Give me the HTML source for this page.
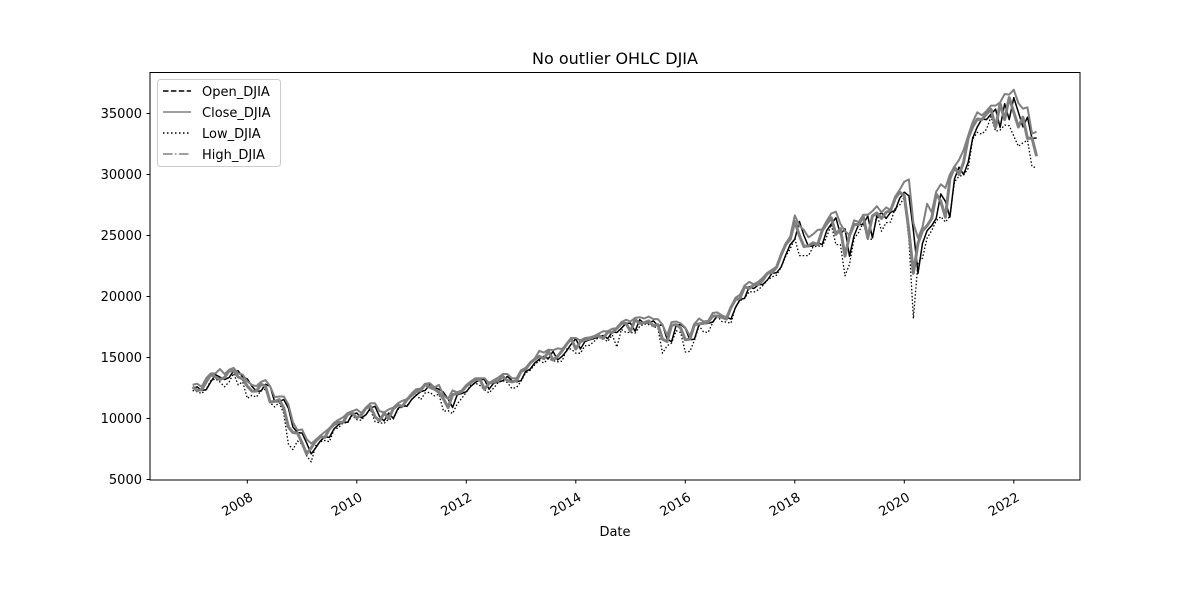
<!DOCTYPE html>
<html><head><meta charset="utf-8"><style>
body{margin:0;background:#fff;}
svg text{font-family:"DejaVu Sans","Liberation Sans",sans-serif;fill:#000;}
</style></head><body>
<svg id="chart" width="1200" height="600" viewBox="0 0 1200 600">
<rect width="1200" height="600" fill="#fff"/>
<text x="615" y="64" font-size="16" text-anchor="middle">No outlier OHLC DJIA</text>
<g id="series"></g>
<rect x="150" y="72.5" width="930" height="407.5" fill="none" stroke="#000" stroke-width="1"/>
<g id="yaxis"></g>
<g id="xaxis"></g>
<text x="615" y="536" font-size="13" text-anchor="middle">Date</text>
<g>
<rect x="157.5" y="79.5" width="123" height="87" rx="3" fill="#fff" fill-opacity="0.8" stroke="#ccc"/>
<g><line x1="163" y1="91" x2="191" y2="91" stroke="#000" stroke-width="1.5" stroke-dasharray="5.5,2.4"/><text x="202" y="96" font-size="13">Open_DJIA</text></g>
<g><line x1="163" y1="112" x2="191" y2="112" stroke="#808080" stroke-width="1.5"/><text x="202" y="117" font-size="13">Close_DJIA</text></g>
<g><line x1="163" y1="133" x2="191" y2="133" stroke="#000" stroke-width="1.5" stroke-dasharray="1.5,2.5"/><text x="202" y="138" font-size="13">Low_DJIA</text></g>
<g><line x1="163" y1="154" x2="191" y2="154" stroke="#808080" stroke-width="1.5" stroke-dasharray="9.6,2.4,1.5,2.4"/><text x="202" y="159" font-size="13">High_DJIA</text></g>
</g>
</svg>
<script>
const startYear = 2007;
const closeVals = [
12600,12300,12350,13000,13600,13400,13200,13350,13900,13900,13400,13250,
12650,12250,12250,12800,12650,11350,11400,11550,10850,9300,8850,8800,
8000,7100,7600,8150,8500,8450,9150,9500,9700,9700,10350,10450,
10050,10300,10850,11000,10150,9800,10450,10000,10800,11100,11000,11550,
11900,12200,12300,12800,12550,12400,12150,11600,10900,11950,12050,12200,
12650,12950,13200,13200,12400,12900,13000,13100,13450,13100,13000,13100,
13850,14050,14550,14850,15100,14900,15500,14800,15100,15550,16100,16550,
15700,16300,16450,16550,16700,16800,16550,17100,17050,17400,17800,17800,
17150,18100,17800,17850,18000,17600,17700,16500,16300,17650,17700,17400,
16450,16500,17700,17750,17800,17900,18400,18400,18300,18150,19100,19750,
19850,20800,20650,20950,21000,21350,21900,21950,22400,23400,24250,24700,
26150,25000,24100,24150,24400,24250,25400,25950,26450,25100,25550,23300,
25000,25900,25900,26600,24800,26600,26850,26400,26900,27050,28050,28550,
28250,25400,21900,24350,25400,25800,26400,28400,27800,26500,29650,30600,
30000,31000,33000,33900,34550,34500,34950,35350,33850,35800,34500,36300,
35100,33900,34700,32950,33000,31500];
const openVals = [
12450,12600,12300,12350,13000,13600,13400,13200,13350,13900,13900,13400,
13250,12650,12250,12250,12800,12650,11350,11400,11550,10850,9300,8850,
8800,8000,7100,7600,8150,8500,8450,9150,9500,9700,9700,10350,
10450,10050,10300,10850,11000,10150,9800,10450,10000,10800,11100,11000,
11550,11900,12200,12300,12800,12550,12400,12150,11600,10900,11950,12050,
12200,12650,12950,13200,13200,12400,12900,13000,13100,13450,13100,13000,
13100,13850,14050,14550,14850,15100,14900,15500,14800,15100,15550,16100,
16550,15700,16300,16450,16550,16700,16800,16550,17100,17050,17400,17800,
17800,17150,18100,17800,17850,18000,17600,17700,16500,16300,17650,17700,
17400,16450,16500,17700,17750,17800,17900,18400,18400,18300,18150,19100,
19750,19850,20800,20650,20950,21000,21350,21900,21950,22400,23400,24250,
24700,26150,25000,24100,24150,24400,24250,25400,25950,26450,25100,25550,
23300,25000,25900,25900,26600,24800,26600,26850,26400,26900,27050,28050,
28550,28250,25400,21900,24350,25400,25800,26400,28400,27800,26500,29650,
30600,30000,31000,33000,33900,34550,34500,34950,35350,33850,35800,34500,
36300,35100,33900,34700,32950,33000];
const lowVals = [
12300,12200,12050,12400,13100,13250,13000,12600,13000,13700,12750,13000,
11650,11900,11750,12300,12400,11300,10950,11300,10400,7900,7450,8150,
7900,6950,6450,7750,8100,8200,8100,9100,9250,9650,9650,10250,
9900,9850,10350,10750,9750,9650,9600,9950,9950,10750,10950,11050,
11550,11950,11550,12100,12150,11850,12000,10600,10650,10400,11200,11650,
12150,12750,12900,12700,12350,12100,12500,12950,13100,12950,12450,12550,
13050,13750,13950,14400,14750,14550,14900,14750,14650,14700,15700,15700,
15350,15350,15950,16000,16300,16650,16550,16300,16850,15850,17300,17050,
17050,17000,17550,17750,17700,17550,17400,15350,15950,16200,17200,17050,
15450,15500,16400,17600,17100,17050,17850,18400,17950,17900,17800,19150,
19650,19850,20400,20350,20550,20900,21350,21600,21750,22400,23300,23900,
24750,23350,23350,23350,24050,24150,24100,24900,25900,24250,24250,21700,
22650,24750,25250,26050,24700,24700,26800,25350,26050,26100,27250,27500,
28150,24650,18200,22800,23150,24800,25400,26200,26550,26100,26600,29400,
29850,29950,30500,32900,33450,33300,33700,34750,33550,33650,34050,34000,
33150,32300,32600,32800,30650,30550];
const highVals = [
12750,12850,12600,13300,13700,13700,14050,13650,14000,14150,13700,13600,
13050,12750,12650,13000,13150,12650,11750,11800,11800,11150,9700,9050,
9100,8300,7950,8250,8600,8900,9200,9650,9900,10100,10450,10600,
10750,10450,10900,11250,11250,10600,10500,10750,10900,11250,11450,11600,
12050,12400,12450,12850,12900,12550,12750,11900,11600,12300,12150,12300,
12750,13050,13300,13300,13300,12900,13150,13350,13650,13650,13300,13300,
13950,14150,14600,14900,15550,15400,15650,15600,15750,15700,16100,16600,
16600,16400,16600,16650,16750,16950,17150,17150,17350,17400,17900,18100,
17950,18250,18300,18200,18350,18150,18150,17700,16800,17900,17950,17800,
17450,16750,17750,18200,17950,18000,18650,18700,18450,18300,19150,19900,
20150,20900,21200,21000,21200,21550,21950,22200,22450,23500,24350,24900,
26650,25800,25450,24850,25100,25450,25500,26200,26800,26950,25950,25350,
25050,26250,26100,26700,26700,27000,27400,26900,27300,27100,28200,28750,
29400,29600,26000,24800,25700,27600,26900,28600,29200,28900,30000,30650,
31200,32000,33200,34300,35100,34850,35200,35650,35650,35900,36600,36550,
36950,35850,35400,35500,33350,33500];
const yTicks = [5000,10000,15000,20000,25000,30000,35000];
const xTicks = [2008,2010,2012,2014,2016,2018,2020,2022];

function xScale(t){ return 247.3 + (t - 2008) * 54.75; }
function yScale(v){ return 479.5 - (v - 5000) * (366 / 30000); }
function tOf(i){ return startYear + i / 12; }
const NS = 'http://www.w3.org/2000/svg';

function drawLine(vals, color, width, dash, name){
  let d = '';
  for (let i = 0; i < vals.length; i++) {
    const x = xScale(tOf(i)), y = yScale(vals[i]);
    d += (i ? 'L' : 'M') + x.toFixed(1) + ',' + y.toFixed(1);
  }
  const p = document.createElementNS(NS, 'path');
  p.setAttribute('d', d);
  p.setAttribute('fill', 'none');
  p.setAttribute('stroke', color);
  p.setAttribute('stroke-width', width);
  p.setAttribute('stroke-linejoin', 'round');
  if (dash) p.setAttribute('stroke-dasharray', dash);
  
  
  document.getElementById('series').appendChild(p);
}
drawLine(lowVals, '#000', '1.3', '1.5,2', 'low-line');
drawLine(openVals, '#000', '1.5', null, 'open-line');
drawLine(closeVals, '#808080', '3', null, 'close-line');
drawLine(highVals, '#808080', '2', null, 'high-line');

const ya = document.getElementById('yaxis');
yTicks.forEach(v => {
  const y = yScale(v);
  const l = document.createElementNS(NS, 'line');
  l.setAttribute('x1', 146.5); l.setAttribute('x2', 150);
  l.setAttribute('y1', y); l.setAttribute('y2', y);
  l.setAttribute('stroke', '#000');
  
  
  ya.appendChild(l);
  const t = document.createElementNS(NS, 'text');
  t.setAttribute('x', 142); t.setAttribute('y', y + 4.5);
  t.setAttribute('font-size', '13'); t.setAttribute('text-anchor', 'end');
  t.textContent = v;
  
  
  ya.appendChild(t);
});
const xa = document.getElementById('xaxis');
xTicks.forEach(yr => {
  const x = xScale(yr);
  const l = document.createElementNS(NS, 'line');
  l.setAttribute('x1', x); l.setAttribute('x2', x);
  l.setAttribute('y1', 480); l.setAttribute('y2', 483.5);
  l.setAttribute('stroke', '#000');
  
  
  xa.appendChild(l);
  const t = document.createElementNS(NS, 'text');
  t.setAttribute('font-size', '13'); t.setAttribute('text-anchor', 'end');
  t.setAttribute('transform', 'translate(' + (x + 2) + ',' + 492 + ') rotate(-30)');
  t.setAttribute('x', 0); t.setAttribute('y', 9);
  t.textContent = yr;
  
  
  xa.appendChild(t);
});
</script>
</body></html>
